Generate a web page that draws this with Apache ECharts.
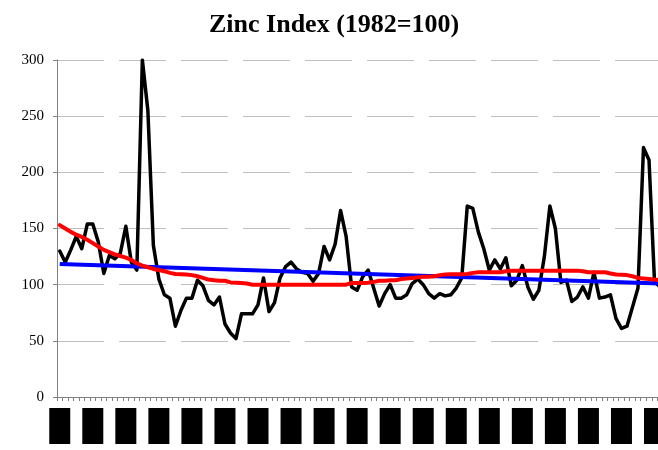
<!DOCTYPE html>
<html>
<head>
<meta charset="utf-8">
<script src="https://cdn.jsdelivr.net/npm/echarts@6/dist/echarts.min.js"></script>
<style>html,body{margin:0;padding:0;background:#fff;overflow:hidden}#c{width:665px;height:450px}</style>
</head>
<body>
<div id="c"></div>
<script>
// Monthly categories, labelled every 6th month
const monthNames = ['Jan','Feb','Mar','Apr','May','Jun','Jul','Aug','Sep','Oct','Nov','Dec'];
const startYear = 1990;
const nPoints = 110;
const categories = [];
for (let i = 0; i < nPoints; i++) {
  const y = startYear + Math.floor(i / 12);
  categories.push(monthNames[i % 12] + '-' + String(y).slice(2));
}

// Zinc index (black)
const zincIndex = [
  130,120,131,143,132,154,154,138,110,126,
  123,128,152,120,113,300,255,135,105,91,
  88,63,77,88,88,104,99,86,82,89,
  65,57,52,74,74,74,82,106,76,84,
  106,116,120,114,111,110,103,110,134,122,
  136,166,143,98,95,107,113,97,81,92,
  100,88,88,91,101,105,100,92,88,92,
  90,91,97,106,170,168,147,132,113,122,
  114,124,99,104,117,98,87,95,125,170,
  150,102,104,85,89,98,88,111,88,89,
  91,70,61,63,80,97,222,211,103,98
];

// Moving average (red)
const movingAvg = [
  153,150,147,144.5,142.5,140,137,134,131,129,
  127,125.5,124,122,119,117,115.5,114,113,112,
  110.5,109.5,109.2,109,108.5,107.5,106,104.5,104,103.5,
  103.5,102,101.8,101.5,101,100,100,100,100,100,
  100,100,100,100,100,100,100,100,100,100,
  100,100,100,101.5,101.5,101.5,101.8,102.5,103.5,103.5,
  104,104,105,105.5,106,106.5,107,107,107.5,108.5,
  109,109.2,109.2,109.2,109.5,110.5,111,111,111,111,
  111,112,112.5,112.5,112.5,112.5,112.5,112.5,112.5,112.5,
  112.5,112.5,112.5,112.5,112.5,112,111,111,111,111,
  110,109,108.8,108.5,107.5,106,105.5,105,104.5,104
];

// Linear trend (blue): start and end values only
const trendStart = 118.3;
const trendEnd = 101.1;
const trendData = categories.map((c, i) => i === 0 ? trendStart : (i === nPoints - 1 ? trendEnd : null));

const yTicks = [0, 50, 100, 150, 200, 250, 300];

const chart = echarts.init(document.getElementById('c'), null, {renderer: 'canvas'});
chart.setOption({
  animation: false,
  backgroundColor: '#fff',
  title: {
    text: 'Zinc Index (1982=100)',
    left: 204,
    top: 7,
    textStyle: {fontFamily: 'Liberation Serif', fontWeight: 'bold', fontSize: 26, color: '#000'}
  },
  grid: {left: 57, top: 60, bottom: 53, right: 0},
  xAxis: {
    type: 'category',
    data: categories,
    boundaryGap: true,
    axisLine: {lineStyle: {color: '#808080', width: 1}},
    axisTick: {show: true, interval: 0, length: 4, lineStyle: {color: '#808080'}},
    axisLabel: {
      interval: 5, rotate: 90, margin: 11,
      color: '#000', backgroundColor: '#000',
      fontFamily: 'Liberation Sans', fontSize: 11, lineHeight: 13,
      padding: [4, 1, 4, 1], width: 34, overflow: 'truncate'
    },
    splitLine: {show: false}
  },
  yAxis: {
    type: 'value',
    min: yTicks[0], max: yTicks[yTicks.length - 1], interval: 50,
    axisLine: {show: true, lineStyle: {color: '#808080', width: 1}},
    axisTick: {show: true, length: 4, lineStyle: {color: '#808080'}},
    axisLabel: {color: '#000', fontFamily: 'Liberation Serif', fontSize: 15, margin: 13},
    splitLine: {show: true, lineStyle: {color: '#c0c0c0', width: 1, type: [47, 15]}}
  },
  series: [
    {type: 'line', data: zincIndex, symbol: 'none', z: 2,
     lineStyle: {color: '#000', width: 3.5, cap: 'round', join: 'round'}},
    {type: 'line', data: trendData, connectNulls: true, symbol: 'none', z: 3,
     lineStyle: {color: '#0000ff', width: 4}},
    {type: 'line', data: movingAvg, symbol: 'none', z: 4,
     lineStyle: {color: '#ff0000', width: 4, cap: 'round', join: 'round'}}
  ]
});
</script>
</body>
</html>
